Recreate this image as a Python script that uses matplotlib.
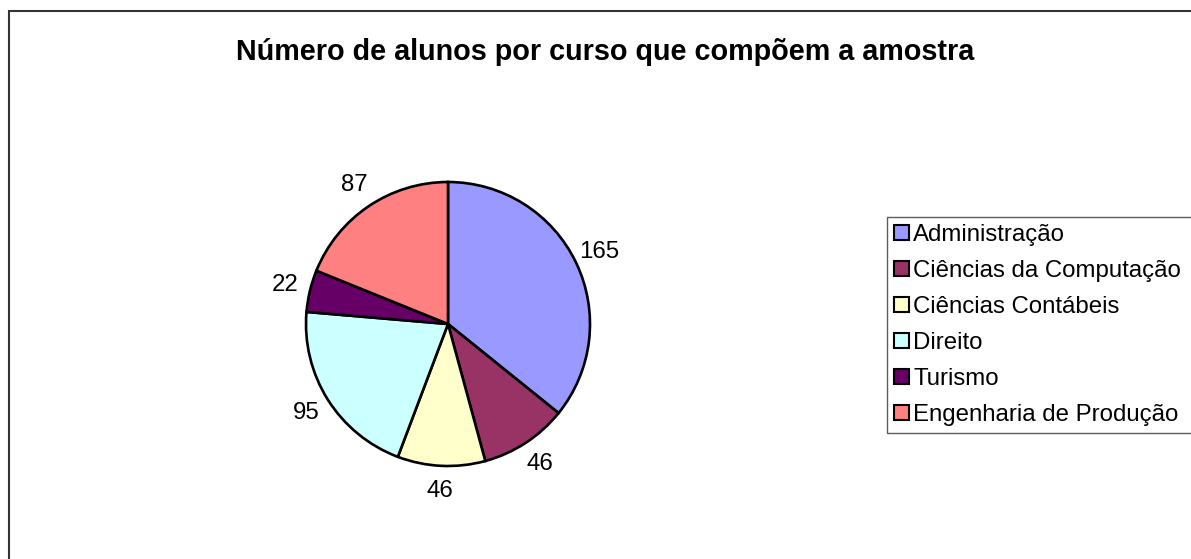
import numpy as np
import matplotlib.pyplot as plt
from matplotlib.patches import Rectangle

# data
cursos = ['Administração', 'Ciências da Computação', 'Ciências Contábeis',
          'Direito', 'Turismo', 'Engenharia de Produção']
alunos = [165, 46, 46, 95, 22, 87]
cores = ['#9999FF', '#993366', '#FFFFCC', '#CCFFFF', '#660066', '#FF8080']

plt.rcParams['font.family'] = ['Liberation Sans', 'DejaVu Sans']

W, H = 1191, 559
fig = plt.figure(figsize=(W/100, H/100), dpi=100)

# outer chart frame (cut at right/bottom)
fig.patches.append(Rectangle((8.5/W, -0.05), 1.1, 1 - 10.5/H + 0.05,
                             transform=fig.transFigure, fill=False,
                             edgecolor='#333333', linewidth=1.5))

# pie axes: centre (448,324) px, radius 142 px
cx, cy, r = 448, 324, 142
ax = fig.add_axes([(cx - r)/W, (H - cy - r)/H, 2*r/W, 2*r/H])
wedges, texts = ax.pie(alunos, colors=cores, startangle=90, counterclock=False,
                       labels=[str(v) for v in alunos], labeldistance=1.18,
                       wedgeprops=dict(edgecolor='black', linewidth=1.9),
                       textprops=dict(fontsize=17.3))
for t in texts:
    t.set_ha('center')
    t.set_va('center')
    t.set_clip_on(False)
ax.set_xlim(-1, 1)
ax.set_ylim(-1, 1)
ax.axis('off')

fig.text(605/W, 1 - 52/H, 'Número de alunos por curso que compõem a amostra',
         ha='center', va='center', fontsize=20.7, fontweight='bold')

# legend box runs past the right edge, as in the original
leg = fig.legend(wedges, cursos, loc='upper left', mode='expand',
                 bbox_to_anchor=(887/W, 1 - 217/H, 0.3, 0), fontsize=17.3,
                 frameon=True, fancybox=False, borderpad=0.3,
                 handlelength=0.6, handleheight=0.6, handletextpad=0.2,
                 labelspacing=0.58, borderaxespad=0)
leg.get_frame().set_edgecolor('#333333')
leg.get_frame().set_linewidth(1.0)
for h in leg.legend_handles:
    h.set_edgecolor('black')
    h.set_linewidth(1.5)

fig.savefig('out.png', dpi=100)
plt.close()
